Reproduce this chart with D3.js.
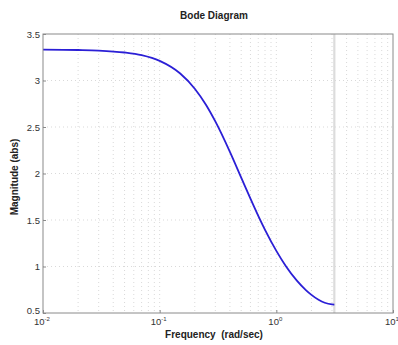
<!DOCTYPE html>
<html><head><meta charset="utf-8">
<script src="https://cdn.jsdelivr.net/npm/d3@7"></script>
<style>body{margin:0;background:#fff}svg{display:block}text{font-family:"Liberation Sans",Arial,sans-serif}</style>
</head><body><svg id="c" width="398" height="345"></svg>
<script>
const freq = [0.01,0.02,0.03,0.05,0.07,0.1,0.15,0.2,0.25,0.3,0.4,0.5,0.6,0.7,0.8,1.0,1.2,1.5,1.8,2.0,2.3,2.6,3.0,3.1416];
const magnitude = [3.332,3.328,3.322,3.301,3.272,3.211,3.075,2.912,2.737,2.560,2.233,1.956,1.729,1.544,1.394,1.168,1.009,0.848,0.744,0.695,0.642,0.610,0.592,0.590];
const yTicks = [0.5,1,1.5,2,2.5,3,3.5];
const yTickLabels = ["0.5","1","1.5","2","2.5","3","3.5"];
const xDecades = [0.01,0.1,1,10];
const xExponents = ["-2","-1","0","1"];
const nyquist = 3.1416;

const svg = d3.select("#c");
const L=43,R=393,T=34,B=313;
const x = d3.scaleLog().domain([0.01,10]).range([L,R]);
const y = d3.scaleLinear().domain([0.5,3.5]).range([B,T]);

svg.append("rect").attr("x",L).attr("y",T).attr("width",R-L).attr("height",B-T).attr("fill","#fff");

const xgrid=[];
for(let d=0.01; d<10; d*=10){ for(let k=1;k<10;k++){ xgrid.push(d*k);} }
svg.append("g").selectAll("line").data(xgrid.filter(v=>v>0.01)).join("line")
  .attr("x1",d=>x(d)).attr("x2",d=>x(d)).attr("y1",T).attr("y2",B)
  .attr("stroke","#cfcfcf").attr("stroke-width",0.8).attr("stroke-dasharray","1,3");
svg.append("g").selectAll("line").data(yTicks.slice(1,-1)).join("line")
  .attr("x1",L).attr("x2",R).attr("y1",d=>y(d)).attr("y2",d=>y(d))
  .attr("stroke","#cfcfcf").attr("stroke-width",0.8).attr("stroke-dasharray","1,3");

svg.append("line").attr("x1",x(nyquist)).attr("x2",x(nyquist)).attr("y1",T).attr("y2",B)
  .attr("stroke","#dcdcdc").attr("stroke-width",2.2);

const line = d3.line().x((d,i)=>x(freq[i])).y((d,i)=>y(magnitude[i])).curve(d3.curveMonotoneX);
svg.append("path").datum(magnitude).attr("d",line).attr("fill","none")
  .attr("stroke","#2b1fd6").attr("stroke-width",1.8);

svg.append("rect").attr("x",L).attr("y",T).attr("width",R-L).attr("height",B-T)
  .attr("fill","none").attr("stroke","#8a8a8a").attr("stroke-width",1);

const yAxis = d3.axisLeft(y).tickValues(yTicks).tickFormat((d,i)=>yTickLabels[i]).tickSizeInner(-3).tickSizeOuter(0).tickPadding(3);
const gy = svg.append("g").attr("transform",`translate(${L},0)`).call(yAxis);
gy.select(".domain").remove();
gy.selectAll("line").attr("stroke","#8a8a8a");
gy.selectAll("text").attr("font-size",9.5).attr("fill","#333").attr("dy",(d)=>d===0.5?"0.1em":"0.32em");

const xAxis = d3.axisBottom(x).tickValues(xDecades).tickFormat("").tickSizeInner(-3).tickSizeOuter(0);
const gx = svg.append("g").attr("transform",`translate(0,${B})`).call(xAxis);
gx.select(".domain").remove();
gx.selectAll("line").attr("stroke","#8a8a8a");
const lab = svg.append("g").selectAll("text").data(xDecades).join("text")
  .attr("x",d=>x(d)-1).attr("y",B+12).attr("text-anchor","middle").attr("font-size",9.5).attr("fill","#333");
lab.append("tspan").text("10");
lab.append("tspan").attr("dy",-4).attr("font-size",6).text((d,i)=>xExponents[i]);

svg.append("text").attr("x",214).attr("y",19).attr("text-anchor","middle").attr("font-size",10).attr("font-weight","bold").attr("fill","#222").text("Bode Diagram");
svg.append("text").attr("x",214).attr("y",338).attr("text-anchor","middle").attr("font-size",10).attr("font-weight","bold").attr("fill","#222").attr("xml:space","preserve").text("Frequency  (rad/sec)");
svg.append("text").attr("transform","translate(18,177) rotate(-90)").attr("text-anchor","middle").attr("font-size",10).attr("font-weight","bold").attr("fill","#222").text("Magnitude (abs)");
</script></body></html>
